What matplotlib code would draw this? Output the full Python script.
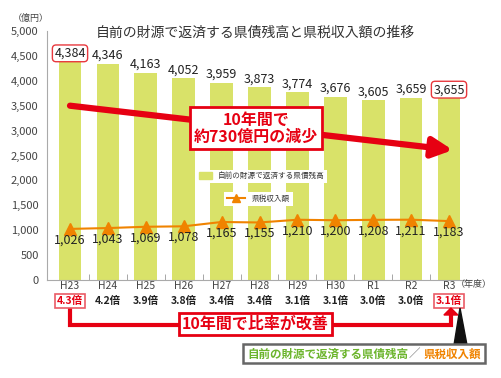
import matplotlib
matplotlib.use('Agg')
import matplotlib.pyplot as plt
import matplotlib.transforms as mtransforms
from matplotlib import font_manager
from matplotlib.patches import Rectangle, Polygon, Patch
from matplotlib.lines import Line2D

years = ['H23', 'H24', 'H25', 'H26', 'H27', 'H28', 'H29', 'H30', 'R1', 'R2', 'R3']
debt = [4384, 4346, 4163, 4052, 3959, 3873, 3774, 3676, 3605, 3659, 3655]
tax = [1026, 1043, 1069, 1078, 1165, 1155, 1210, 1200, 1208, 1211, 1183]
ratio = ['4.3倍', '4.2倍', '3.9倍', '3.8倍', '3.4倍', '3.4倍', '3.1倍', '3.1倍', '3.0倍', '3.0倍', '3.1倍']

JP = 'Noto Sans CJK JP'
names = {f.name for f in font_manager.fontManager.ttflist}
NUM = 'Liberation Sans Narrow' if 'Liberation Sans Narrow' in names else JP
plt.rcParams['font.family'] = [JP, 'DejaVu Sans']

GREEN = '#d9e269'
ORANGE = '#f08300'
RED = '#e60012'
GRAY = '#444444'

W, H = 501, 378
fig = plt.figure(figsize=(W / 100, H / 100), dpi=100)
ax = fig.add_axes([47 / W, 1 - 280 / H, 425 / W, 249 / H])


def fy(y):
    return 1 - y / H


def fx(x):
    return x / W


xs = list(range(len(years)))
ax.bar(xs, debt, width=0.6, color=GREEN, zorder=2)
ax.plot(xs, tax, color=ORANGE, lw=1.5, marker='^', ms=8, zorder=4)

ax.set_xlim(-0.607, 10.607)
ax.set_ylim(0, 5000)
ax.set_yticks(range(0, 5001, 500))
ax.set_yticklabels([f'{v:,}' for v in range(0, 5001, 500)], family=NUM, fontsize=8, color=GRAY)
ax.tick_params(axis='y', length=0, pad=6)
ax.set_xticks(xs)
ax.set_xticklabels(years, family=NUM, fontsize=7.5, color=GRAY, va='center')
ax.tick_params(axis='x', length=0, pad=4)
ax.set_xticks([i + 0.5 for i in range(len(years) - 1)], minor=True)
ax.tick_params(axis='x', which='minor', direction='in', length=4, color='#999999')
for s in ['top', 'right']:
    ax.spines[s].set_visible(False)
ax.spines['left'].set_color('#aaaaaa')
ax.spines['bottom'].set_color('#aaaaaa')

for i, v in enumerate(debt):
    box = None
    if i in (0, len(debt) - 1):
        box = dict(boxstyle='round,pad=0.15,rounding_size=0.3', fc='white', ec='#e8383d', lw=1)
    ax.annotate(f'{v:,}', (i, v), xytext=(0, 6), textcoords='offset points',
                ha='center', va='center', family=NUM, fontsize=9, color='#222222', bbox=box, zorder=5)
for i, v in enumerate(tax):
    ax.annotate(f'{v:,}', (i, v), xytext=(0, -8), textcoords='offset points',
                ha='center', va='center', family=NUM, fontsize=9, color='#222222', zorder=5)

# title and unit
fig.text(fx(255), fy(33), '自前の財源で返済する県債残高と県税収入額の推移', ha='center', va='center',
         fontsize=10, color='#333333')
fig.text(fx(31), fy(18), '（億円）', ha='center', va='center', fontsize=6.5, color=GRAY)
fig.text(fx(474), fy(285), '（年度）', ha='center', va='center', fontsize=6.5, color=GRAY)

# legends
leg1 = ax.legend([Patch(color=GREEN)], ['自前の財源で返済する県債残高'], loc='upper left',
                 bbox_to_anchor=(fx(197), fy(170)), bbox_transform=fig.transFigure,
                 fontsize=5.5, frameon=True, fancybox=False, framealpha=1, edgecolor='none',
                 handlelength=1.6, handleheight=0.9, borderpad=0.3, borderaxespad=0)
for t in leg1.get_texts():
    t.set_color('#333333')
ax.add_artist(leg1)
leg2 = ax.legend([Line2D([], [], color=ORANGE, marker='^', ms=6, lw=1.5)], ['県税収入額'], loc='upper left',
                 bbox_to_anchor=(fx(224), fy(192)), bbox_transform=fig.transFigure,
                 fontsize=5.5, frameon=True, fancybox=False, framealpha=1, edgecolor='none',
                 handlelength=2.4, borderpad=0.4, borderaxespad=0)
for t in leg2.get_texts():
    t.set_color('#333333')

# decreasing arrow
ax.annotate('', xy=(10.1, 2610), xytext=(0, 3500),
            arrowprops=dict(arrowstyle='-|>,head_length=1.2,head_width=0.6', color=RED, lw=4.5,
                            shrinkA=0, shrinkB=0), zorder=6)
ax.text(4.9, 3050, '10年間で\n約730億円の減少', ha='center', va='center', fontsize=11.5,
        fontweight='bold', color=RED, linespacing=1.1, zorder=7,
        bbox=dict(boxstyle='square,pad=0.25', fc='white', ec=RED, lw=2))

# ratio row
bt = mtransforms.blended_transform_factory(ax.transData, fig.transFigure)
for i, r in enumerate(ratio):
    edge = i in (0, len(ratio) - 1)
    ax.text(i, fy(301), r, transform=bt, ha='center', va='center', fontsize=7.5,
            fontweight='bold', color=RED if edge else '#222222',
            bbox=dict(boxstyle='square,pad=0.2', fc='white', ec='#ea5b66', lw=1.2) if edge else None)

# bracket arrow under the ratios
x_end = 10.05
ax.add_line(Line2D([0, 0, x_end, x_end], [fy(309), fy(325), fy(325), fy(314)], transform=bt,
                   color=RED, lw=3, clip_on=False, solid_joinstyle='miter'))
x_px = ax.transData.transform((x_end, 0))[0]
fig.patches.append(Polygon([[fx(x_px - 7), fy(315)], [fx(x_px + 7), fy(315)], [fx(x_px), fy(308)]],
                           closed=True, transform=fig.transFigure, color=RED))
ax.text(4.89, fy(324), '10年間で比率が改善', transform=bt, ha='center', va='center', fontsize=11.5,
        fontweight='bold', color=RED, bbox=dict(boxstyle='square,pad=0.2', fc='white', ec=RED, lw=2))

# bottom right note
fig.patches.append(Polygon([[fx(454), fy(345)], [fx(467), fy(345)], [fx(460), fy(308)]],
                           closed=True, transform=fig.transFigure, color='#111111'))
fig.patches.append(Rectangle((fx(243), fy(363)), fx(485 - 243), (363 - 344) / H,
                             transform=fig.transFigure, fc='white', ec='#666666', lw=1.8))
fig.text(fx(408), fy(354), '自前の財源で返済する県債残高', ha='right', va='center', fontsize=8.3,
         fontweight='bold', color='#6cb52d')
fig.text(fx(414), fy(354), '／', ha='center', va='center', fontsize=8.3, color='#666666')
fig.text(fx(481), fy(354), '県税収入額', ha='right', va='center', fontsize=8.3,
         fontweight='bold', color=ORANGE)

fig.savefig('out.png', dpi=100)
